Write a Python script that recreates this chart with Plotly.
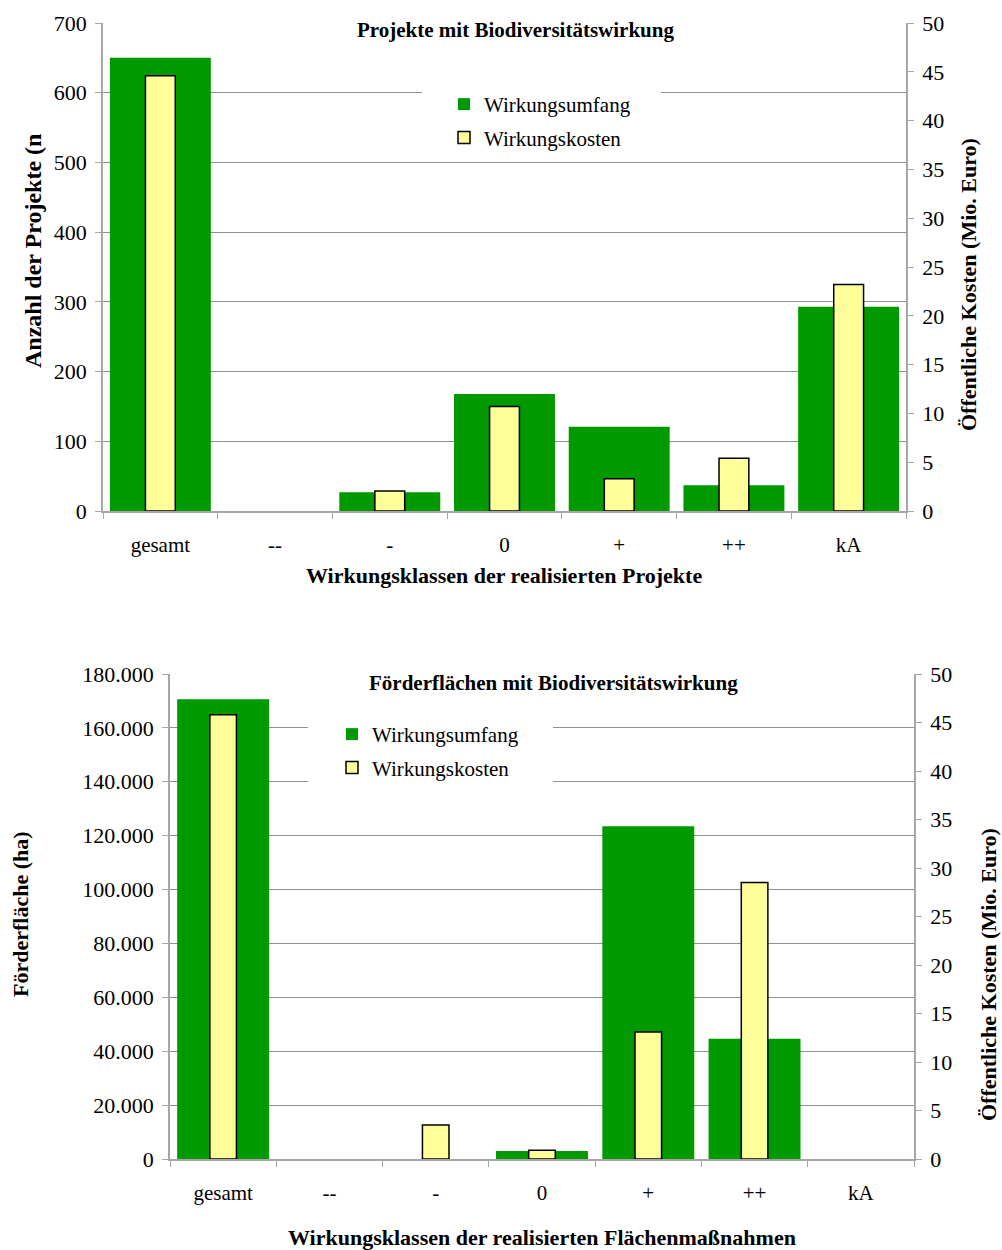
import plotly.graph_objects as go

# Impact classes shared by both charts
klassen = ["gesamt", "--", "-", "0", "+", "++", "kA"]

# Chart 1: projects with biodiversity impact
projekte_anzahl = [650, 0, 27, 168, 121, 37, 293]          # number of projects
projekte_kosten = [44.6, 0, 2.05, 10.7, 3.3, 5.4, 23.2]    # public costs (Mio. Euro)

# Chart 2: funded areas with biodiversity impact
flaechen_ha = [170600, 0, 0, 3000, 123500, 44600, 0]        # funded area (ha)
flaechen_kosten = [45.8, 0, 3.5, 0.9, 13.1, 28.5, 0]        # public costs (Mio. Euro)

W, H = 1002, 1250
FONT = "Liberation Serif"
GREEN = "#009900"
YELLOW = "#FFFF99"
GRID = "#8f8f8f"
AXIS = "#a6a6a6"

# plot areas in pixels: (left, right, top, bottom) and primary y ranges
TOP = (103, 906, 23, 511)
BOTTOM = (170, 914, 674, 1159)
TOP_RANGE = 700
BOTTOM_RANGE = 180000


def px_x(x):
    return x / W


def px_y(y):
    return 1 - y / H


def outline(values):
    # no outline on empty bars, so zero values leave no stray line on the axis
    return [1.5 if v > 0 else 0 for v in values]


def white_box(area, yrange, xref, yref, x0, x1, y0, y1):
    # white panel behind a legend, drawn above the gridlines but below the bars
    l, r, t, b = area
    n = len(klassen)

    def dx(px):
        return (px - l) / (r - l) * n - 0.5

    def dy(py):
        return (b - py) / (b - t) * yrange

    return dict(
        type="rect", xref=xref, yref=yref,
        x0=dx(x0), x1=dx(x1), y0=dy(y1), y1=dy(y0),
        fillcolor="white", line=dict(width=0), layer="between",
    )


fig = go.Figure()

# --- top chart ---
fig.add_trace(go.Bar(
    x=klassen, y=projekte_anzahl, name="Wirkungsumfang",
    marker=dict(color=GREEN, line=dict(width=0)), width=0.88,
    xaxis="x", yaxis="y", legend="legend", legendgroup="a",
))
fig.add_trace(go.Bar(
    x=klassen, y=projekte_kosten, name="Wirkungskosten",
    marker=dict(color=YELLOW, line=dict(color="black", width=outline(projekte_kosten))),
    width=0.26, xaxis="x", yaxis="y2", legend="legend", legendgroup="b",
))

# --- bottom chart ---
fig.add_trace(go.Bar(
    x=klassen, y=flaechen_ha, name="Wirkungsumfang",
    marker=dict(color=GREEN, line=dict(width=0)), width=0.865,
    xaxis="x2", yaxis="y3", legend="legend2", legendgroup="a",
))
fig.add_trace(go.Bar(
    x=klassen, y=flaechen_kosten, name="Wirkungskosten",
    marker=dict(color=YELLOW, line=dict(color="black", width=outline(flaechen_kosten))),
    width=0.25, xaxis="x2", yaxis="y4", legend="legend2", legendgroup="b",
))

tickfont = dict(family=FONT, size=22, color="black")
xtickfont = dict(family=FONT, size=21, color="black")

xcommon = dict(
    type="category", categoryorder="array", categoryarray=klassen,
    showline=True, linecolor=AXIS, linewidth=1.5,
    ticks="outside", tickson="boundaries", ticklen=6, tickcolor=AXIS,
    tickfont=xtickfont, ticklabelstandoff=14, showgrid=False, zeroline=False,
    fixedrange=True, automargin=False,
)
ycommon = dict(
    showline=True, linecolor=AXIS, linewidth=1.5,
    ticks="outside", ticklen=6, tickcolor=AXIS, tickfont=tickfont,
    ticklabelstandoff=4, zeroline=False, fixedrange=True, automargin=False,
)

legend_common = dict(
    xanchor="left", yanchor="top", bgcolor="rgba(0,0,0,0)", borderwidth=0,
    font=dict(family=FONT, size=21), traceorder="grouped", tracegroupgap=3,
    itemclick=False,
)

fig.update_layout(
    width=W, height=H,
    margin=dict(l=0, r=0, t=0, b=0),
    paper_bgcolor="white", plot_bgcolor="white",
    barmode="overlay",
    separators=",.",
    font=dict(family=FONT, color="black"),
    xaxis=dict(domain=[px_x(TOP[0]), px_x(TOP[1])], anchor="y", **xcommon),
    yaxis=dict(domain=[px_y(TOP[3]), px_y(TOP[2])], anchor="x", range=[0, TOP_RANGE], dtick=100,
               showgrid=True, gridcolor=GRID, gridwidth=1, **ycommon),
    yaxis2=dict(overlaying="y", side="right", anchor="x", range=[0, 50], dtick=5,
                showgrid=False, **ycommon),
    xaxis2=dict(domain=[px_x(BOTTOM[0]), px_x(BOTTOM[1])], anchor="y3", **xcommon),
    yaxis3=dict(domain=[px_y(BOTTOM[3]), px_y(BOTTOM[2])], anchor="x2",
                range=[0, BOTTOM_RANGE], dtick=20000, tickformat=",d",
                showgrid=True, gridcolor=GRID, gridwidth=1, **ycommon),
    yaxis4=dict(overlaying="y3", side="right", anchor="x2", range=[0, 50], dtick=5,
                showgrid=False, **ycommon),
    legend=dict(x=px_x(444), y=px_y(84), **legend_common),
    legend2=dict(x=px_x(332), y=px_y(714), **legend_common),
    showlegend=True,
    shapes=[
        white_box(TOP, TOP_RANGE, "x", "y", 422, 661, 82, 156),
        white_box(BOTTOM, BOTTOM_RANGE, "x2", "y3", 308, 553, 714, 792),
    ],
)


def bold(size):
    return dict(family=FONT, size=size, color="black")


annotations = [
    # chart titles, boxed in white over the top gridline
    dict(text="<b>Projekte mit Biodiversitätswirkung</b>", x=px_x(515), y=px_y(30),
         font=bold(21), bgcolor="white", borderpad=2),
    dict(text="<b>Förderflächen mit Biodiversitätswirkung</b>", x=px_x(553), y=px_y(683),
         font=bold(21), bgcolor="white", borderpad=2),
    # axis titles, top chart
    dict(text="<b>Anzahl der Projekte (n</b>", x=px_x(33), y=px_y(251), textangle=-90, font=bold(24)),
    dict(text="<b>Öffentliche Kosten (Mio. Euro)</b>", x=px_x(968), y=px_y(285), textangle=-90, font=bold(22)),
    dict(text="<b>Wirkungsklassen der realisierten Projekte</b>", x=px_x(504), y=px_y(575), font=bold(22)),
    # axis titles, bottom chart
    dict(text="<b>Förderfläche (ha)</b>", x=px_x(20), y=px_y(914), textangle=-90, font=bold(22)),
    dict(text="<b>Öffentliche Kosten (Mio. Euro)</b>", x=px_x(988), y=px_y(975), textangle=-90, font=bold(22)),
    dict(text="<b>Wirkungsklassen der realisierten Flächenmaßnahmen</b>", x=px_x(542), y=px_y(1237), font=bold(22)),
]
for a in annotations:
    a.update(xref="paper", yref="paper", showarrow=False, xanchor="center", yanchor="middle")
fig.update_layout(annotations=annotations)

fig.write_html("out.html")
